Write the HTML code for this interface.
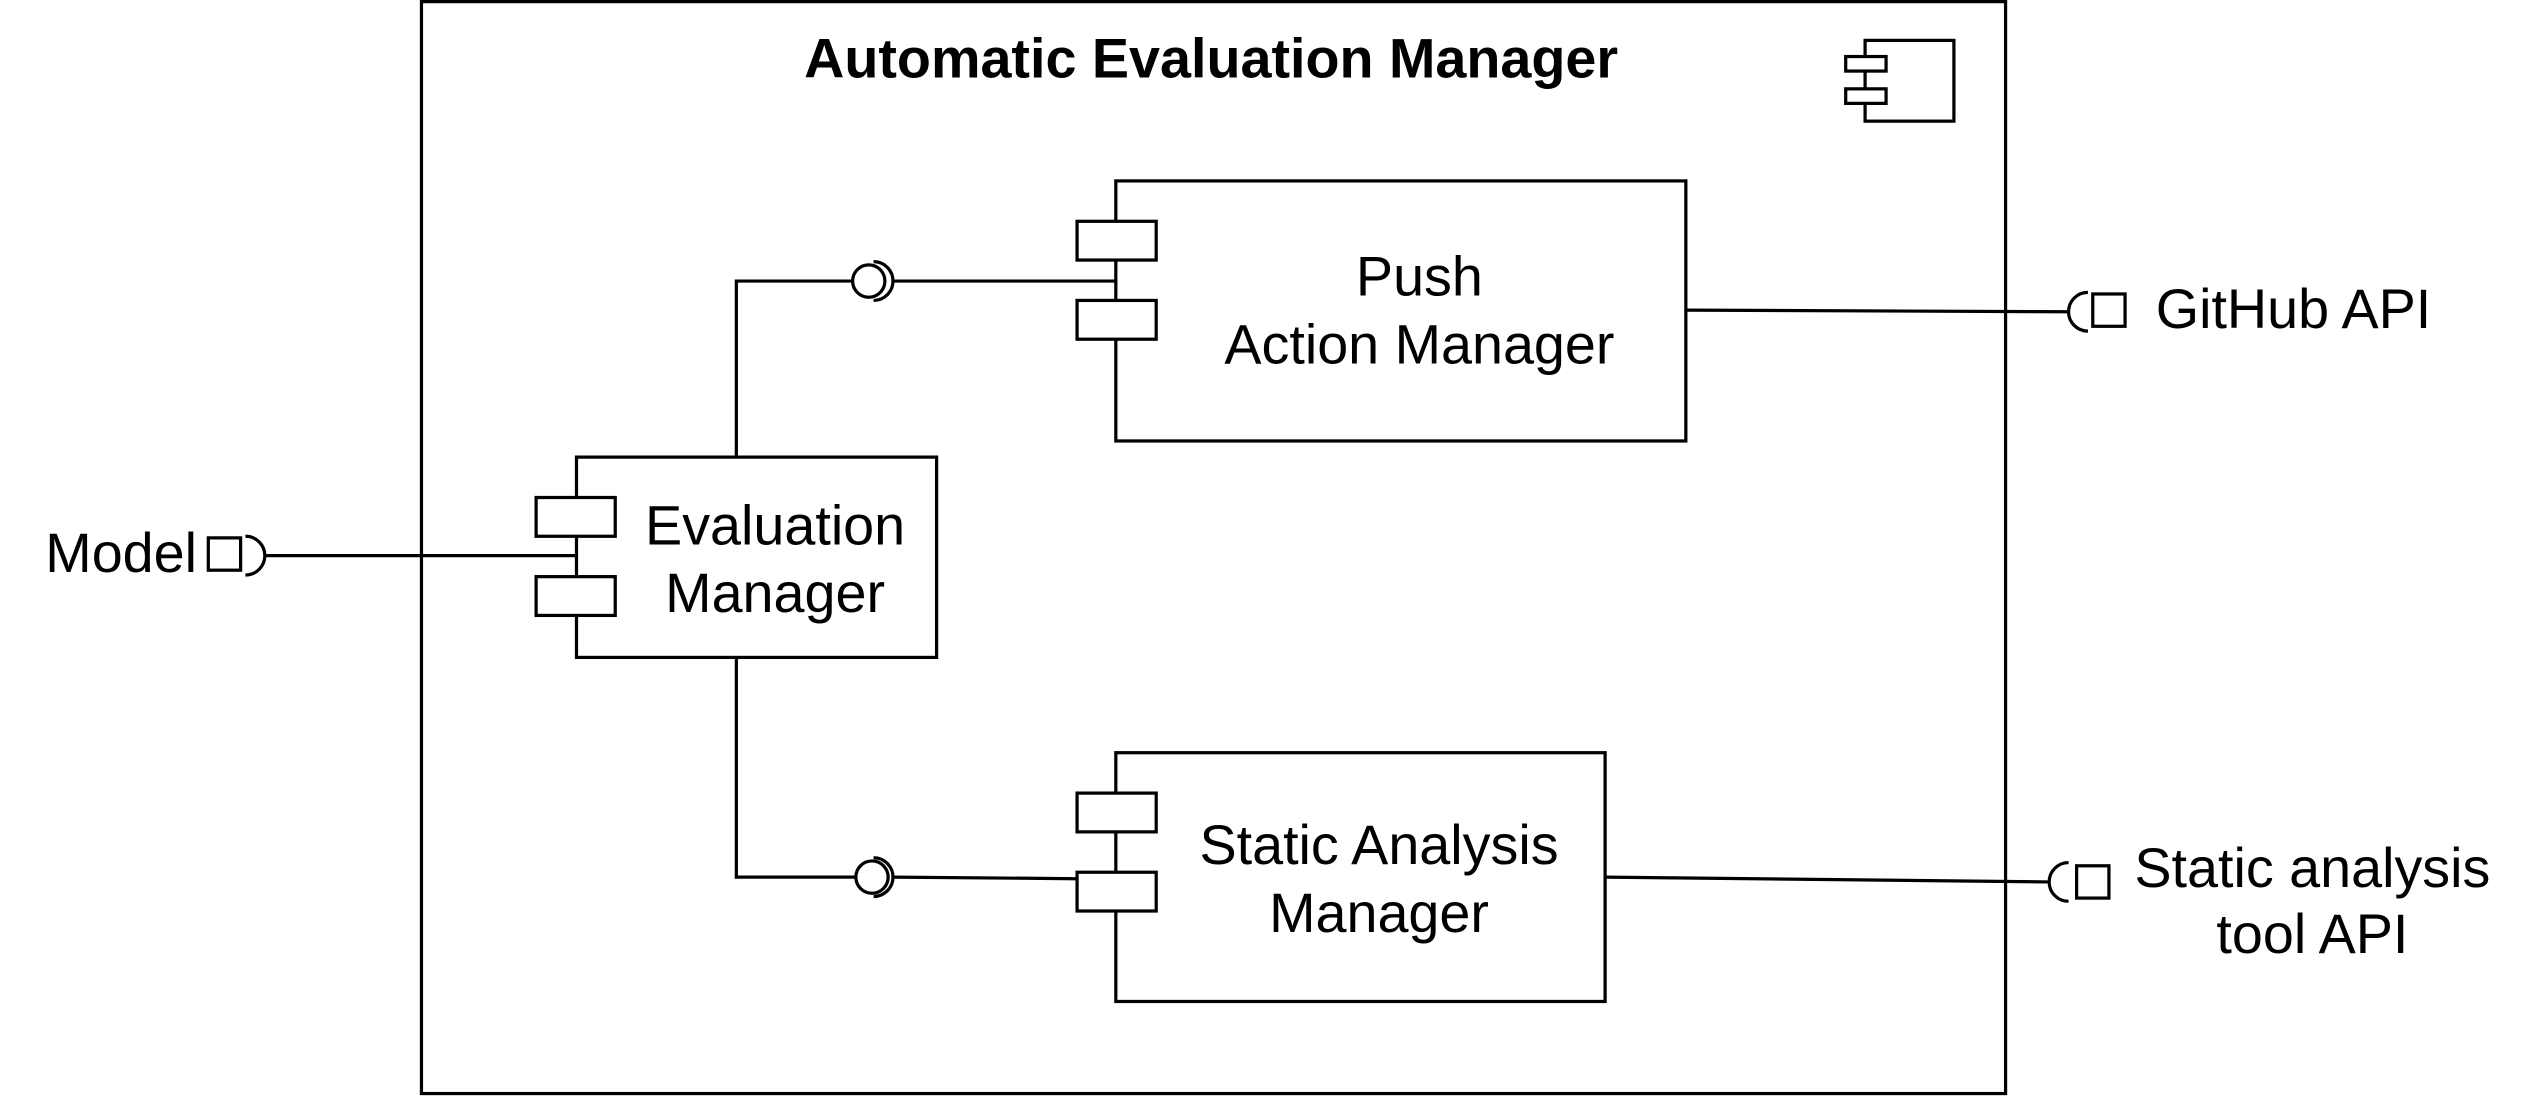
<!DOCTYPE html>
<html><head><meta charset="utf-8"><style>
html,body{margin:0;padding:0;background:#fff;}
svg{display:block;}
text{font-family:"Liberation Sans",Arial,sans-serif;fill:#000;}
</style></head><body>
<svg width="2532" height="1100" viewBox="0 0 1568 681" preserveAspectRatio="none" xmlns="http://www.w3.org/2000/svg">
<g fill="#fff" stroke="#000" stroke-width="2">
<rect x="261" y="1" width="981" height="676"/>
<rect x="1155" y="25" width="55" height="50"/>
<rect x="1143" y="35" width="25" height="9"/>
<rect x="1143" y="55" width="25" height="9"/>
<rect x="691" y="112" width="353" height="161"/>
<rect x="667" y="137" width="49" height="24"/>
<rect x="667" y="186" width="49" height="24"/>
<rect x="357" y="283" width="223" height="124"/>
<rect x="332" y="308" width="49" height="24"/>
<rect x="332" y="357" width="49" height="24"/>
<rect x="691" y="466" width="303" height="154"/>
<rect x="667" y="491" width="49" height="24"/>
<rect x="667" y="540" width="49" height="24"/>
</g>
<g fill="none" stroke="#000" stroke-width="2">
<polyline points="456,283 456,174 528,174"/>
<line x1="553" y1="174" x2="691" y2="174"/>
<polyline points="456,407 456,543 530,543"/>
<line x1="553" y1="543" x2="667" y2="544"/>
<path d="M541,162 A12,12 0 0 1 541,186"/>
<path d="M541,531 A12,12 0 0 1 541,555"/>
<line x1="164" y1="344" x2="357" y2="344"/>
<path d="M152,332 A12,12 0 0 1 152,356"/>
<rect x="129" y="333" width="20" height="20" fill="#fff"/>
<line x1="1044" y1="192" x2="1281" y2="193"/>
<path d="M1293,181 A12,12 0 0 0 1293,205"/>
<rect x="1296" y="182" width="20" height="20" fill="#fff"/>
<line x1="994" y1="543" x2="1269" y2="546"/>
<path d="M1281,534 A12,12 0 0 0 1281,558"/>
<rect x="1286" y="536" width="20" height="20" fill="#fff"/>
</g>
<g fill="#fff" stroke="#000" stroke-width="2">
<circle cx="538" cy="174" r="10"/>
<circle cx="540" cy="543" r="10"/>
</g>
<text x="750" y="48" font-weight="bold" text-anchor="middle" style="font-size:34.5px">Automatic Evaluation Manager</text>
<g text-anchor="middle" style="font-size:34.5px">
<text x="879" y="183">Push</text>
<text x="879" y="225">Action Manager</text>
<text x="480" y="337">Evaluation</text>
<text x="480" y="379">Manager</text>
<text x="854" y="535">Static Analysis</text>
<text x="854" y="577">Manager</text>
<text x="1432" y="549">Static analysis</text>
<text x="1432" y="590">tool API</text>
</g>
<text x="122" y="354" text-anchor="end" style="font-size:34.5px">Model</text>
<text x="1335" y="203" style="font-size:34.5px">GitHub API</text>
</svg>
</body></html>
